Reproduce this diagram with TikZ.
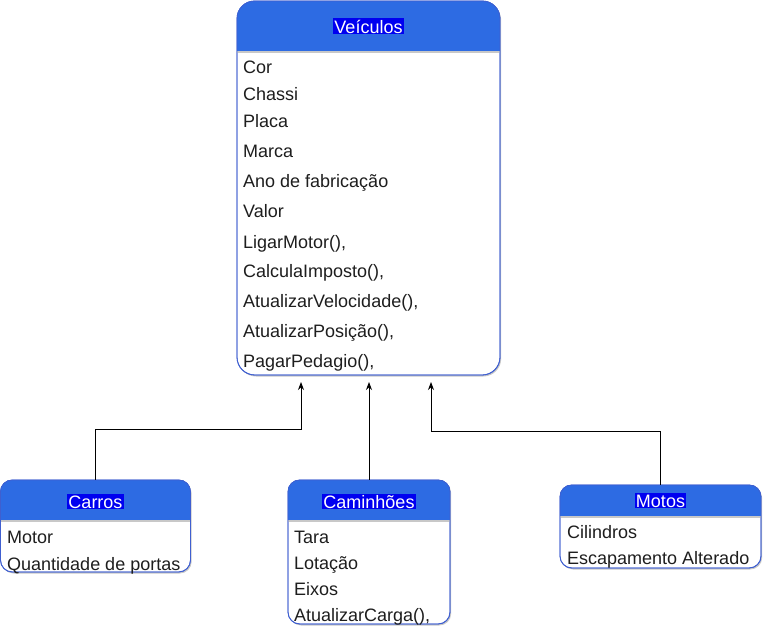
\documentclass[tikz,border=0pt]{standalone}
\usepackage{fontspec}
\setmainfont{Liberation Sans}
\usetikzlibrary{calc,shadows,arrows.meta}
\definecolor{hdr}{HTML}{2D6BE3}
\definecolor{bodyline}{HTML}{3F5FD0}
\definecolor{ttlbg}{HTML}{0000F0}
\definecolor{txt}{HTML}{1E1E1E}
\definecolor{sepc}{HTML}{C8C8C8}
\tikzset{
  cls/.style={rectangle, draw=bodyline, line width=0.8pt, fill=white, inner sep=0pt,
    drop shadow={shadow xshift=1.2pt, shadow yshift=-1.5pt, opacity=0.22, fill=black}},
  ttl/.style={anchor=base, fill=ttlbg, text=white, inner sep=1.3pt, font=\fontsize{18}{21}\selectfont},
  attr/.style={anchor=base west, inner sep=0pt, text=txt, font=\fontsize{18}{21}\selectfont},
  conn/.style={draw=black, line width=0.9pt, -{Stealth[length=8pt,width=6pt]}},
}
\newcommand\clshdr[3]{% node, header height, radius
  \begin{scope}
    \clip[rounded corners=#3] (#1.north west) rectangle (#1.south east);
    \fill[hdr] (#1.north west) rectangle ($(#1.north east)+(0,#2)$);
    \fill[sepc] ($(#1.north west)+(0,#2)$) rectangle ($(#1.north east)+(0,#2+2)$);
    \draw[bodyline, line width=1.6pt, rounded corners=#3] (#1.north west) rectangle (#1.south east);
  \end{scope}
}
\begin{document}
\begin{tikzpicture}[x=1pt,y=-1pt]
\useasboundingbox (0,0) rectangle (764,629);

% class boxes
\node[cls, rounded corners=18, minimum width=263, minimum height=374] (veh) at (368.5,188) {};
\node[cls, rounded corners=12, minimum width=190, minimum height=92] (car) at (95.5,526) {};
\node[cls, rounded corners=12, minimum width=162, minimum height=144] (cam) at (369,552) {};
\node[cls, rounded corners=12, minimum width=201, minimum height=83] (mot) at (660.5,526.5) {};

\clshdr{veh}{50}{18}
\clshdr{car}{40}{12}
\clshdr{cam}{40}{12}
\clshdr{mot}{31}{12}

% titles
\node[ttl] (vehT) at (368.5,33) {Veículos};
\node[ttl] (carT) at (95.5,508) {Carros};
\node[ttl] (camT) at (369,508) {Caminhões};
\node[ttl] (motT) at (660.5,507) {Motos};

% Veículos attributes
\node[attr] (v1) at (243,73) {Cor};
\node[attr] (v2) at (243,100) {Chassi};
\node[attr] (v3) at (243,127) {Placa};
\node[attr] (v4) at (243,157) {Marca};
\node[attr] (v5) at (243,187) {Ano de fabricação};
\node[attr] (v6) at (243,217) {Valor};
\node[attr] (v7) at (243,248) {LigarMotor(),};
\node[attr] (v8) at (243,277) {CalculaImposto(),};
\node[attr] (v9) at (243,307) {AtualizarVelocidade(),};
\node[attr] (v10) at (243,337) {AtualizarPosição(),};
\node[attr] (v11) at (243,367) {PagarPedagio(),};

% Carros
\node[attr] (c1) at (7,543) {Motor};
\node[attr] (c2) at (7,570) {Quantidade de portas};

% Caminhoes
\node[attr] (k1) at (294,543) {Tara};
\node[attr] (k2) at (294,569) {Lotação};
\node[attr] (k3) at (294,595) {Eixos};
\node[attr] (k4) at (294,621) {AtualizarCarga(),};

% Motos
\node[attr] (m1) at (567,538) {Cilindros};
\node[attr] (m2) at (567,564) {Escapamento Alterado};

% connectors
\coordinate (a1) at (301,382);
\coordinate (a2) at (369,382);
\coordinate (a3) at (431,382);
\draw[conn] (car.north) -- ++(0,-50) -| (a1);
\draw[conn] (cam.north) -- (a2);
\draw[conn] (mot.north) -- ++(0,-53) -| (a3);
\end{tikzpicture}
\end{document}
